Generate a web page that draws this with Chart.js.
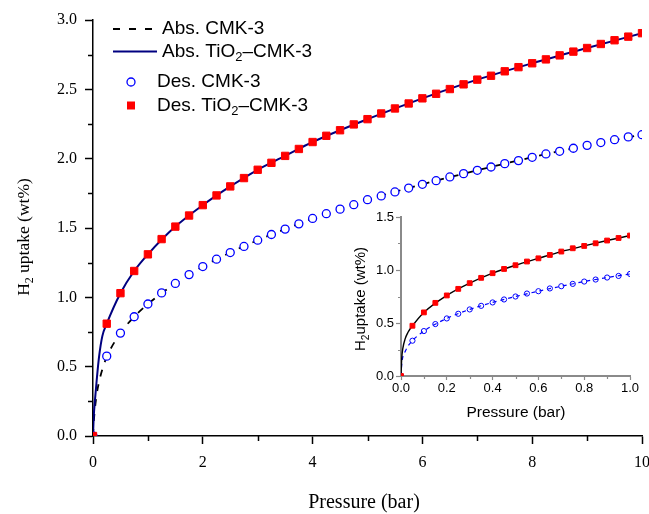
<!DOCTYPE html>
<html>
<head>
<meta charset="utf-8">
<script src="https://cdn.jsdelivr.net/npm/chart.js@4.4.0/dist/chart.umd.min.js"></script>
<style>
	body { margin: 0; background: #fff; }
	#wrap { position: relative; width: 649px; height: 514px; }
	#main-chart { position: absolute; left: 0; top: 0; }
	#inset-chart { position: absolute; left: 340px; top: 200px; }
</style>
</head>
<body>
<div id="wrap">
	<canvas id="main-chart" width="649" height="514"></canvas>
	<canvas id="inset-chart" width="305" height="230"></canvas>
</div>
<script>
// main plot, desorption points (bar, wt%)
var desPressure = [0, 0.25, 0.5, 0.75, 1, 1.25, 1.5, 1.75, 2, 2.25, 2.5, 2.75, 3, 3.25, 3.5, 3.75, 4, 4.25, 4.5, 4.75,
	5, 5.25, 5.5, 5.75, 6, 6.25, 6.5, 6.75, 7, 7.25, 7.5, 7.75, 8, 8.25, 8.5, 8.75, 9, 9.25, 9.5, 9.75, 10];
var desTiO2 = [0, 0.81, 1.03, 1.19, 1.31, 1.42, 1.51, 1.59, 1.665, 1.735, 1.80, 1.86, 1.92, 1.97, 2.02, 2.07, 2.12, 2.165, 2.205, 2.247,
	2.285, 2.326, 2.362, 2.398, 2.435, 2.468, 2.502, 2.536, 2.57, 2.598, 2.63, 2.66, 2.688, 2.716, 2.745, 2.772, 2.798, 2.827, 2.854, 2.88, 2.905];
var desCMK3 = [0, 0.576, 0.742, 0.86, 0.952, 1.032, 1.10, 1.164, 1.222, 1.275, 1.323, 1.367, 1.412, 1.453, 1.492, 1.53, 1.569, 1.603, 1.636, 1.668,
	1.704, 1.731, 1.76, 1.788, 1.815, 1.841, 1.868, 1.892, 1.916, 1.94, 1.964, 1.986, 2.01, 2.034, 2.053, 2.075, 2.096, 2.116, 2.137, 2.157, 2.173];

// main plot, absorption curves
var absPressure = [0, 0.012, 0.036, 0.067, 0.11, 0.17, 0.25, 0.5, 0.75, 1, 1.5, 2, 2.5, 3, 3.5, 4, 5, 6, 7, 8, 9, 10];
var absTiO2 = [0, 0.13, 0.26, 0.40, 0.57, 0.72, 0.81, 1.03, 1.19, 1.31, 1.51, 1.665, 1.80, 1.92, 2.02, 2.12, 2.285, 2.435, 2.57, 2.688, 2.798, 2.905];
var absCMK3 = [0, 0.09, 0.20, 0.30, 0.39, 0.48, 0.57, 0.742, 0.86, 0.952, 1.10, 1.222, 1.323, 1.412, 1.492, 1.569, 1.704, 1.815, 1.916, 2.01, 2.096, 2.173];

// inset, low pressure
var insetPressure = [0, 0.05, 0.1, 0.15, 0.2, 0.25, 0.3, 0.35, 0.4, 0.45, 0.5, 0.55, 0.6, 0.65, 0.7, 0.75, 0.8, 0.85, 0.9, 0.95, 1];
var insetDesTiO2 = [0, 0.474, 0.60, 0.69, 0.76, 0.822, 0.876, 0.926, 0.97, 1.01, 1.045, 1.08, 1.11, 1.142, 1.174, 1.205, 1.227, 1.252, 1.278, 1.302, 1.325];
var insetDesCMK3 = [0, 0.333, 0.424, 0.49, 0.543, 0.587, 0.628, 0.662, 0.694, 0.722, 0.75, 0.778, 0.80, 0.826, 0.847, 0.869, 0.891, 0.91, 0.929, 0.944, 0.963];
var insetAbsPressure = [0, 0.003, 0.008, 0.018, 0.03, 0.05, 0.1, 0.2, 0.3, 0.4, 0.5, 0.6, 0.7, 0.8, 0.9, 1];
var insetAbsTiO2 = [0, 0.16, 0.26, 0.35, 0.41, 0.474, 0.60, 0.76, 0.876, 0.97, 1.045, 1.11, 1.174, 1.227, 1.278, 1.325];
var insetAbsCMK3 = [0, 0.10, 0.18, 0.23, 0.28, 0.333, 0.424, 0.543, 0.628, 0.694, 0.75, 0.80, 0.847, 0.891, 0.929, 0.963];

var yMinorMain = [0.25, 0.75, 1.25, 1.75, 2.25, 2.75];
var xMinorMain = [1, 3, 5, 7, 9];
var yMinorInset = [0.25, 0.75, 1.25];
var xMinorInset = [0.1, 0.3, 0.5, 0.7, 0.9];

var SERIF = "'Liberation Serif', 'Times New Roman', serif";
var SANS = "'Liberation Sans', Arial, sans-serif";

function pts(xs, ys) {
	return xs.map(function(x, i) { return { x: x, y: ys[i] }; });
}

// text with subscript parts: [[text, isSub], ...]
function drawRich(ctx, parts, x, y, size, family, center) {
	var w = 0;
	parts.forEach(function(p) {
		ctx.font = (p[1] ? size * 0.68 : size) + 'px ' + family;
		w += ctx.measureText(p[0]).width;
	});
	var cx = center ? x - w / 2 : x;
	ctx.textAlign = 'left';
	ctx.textBaseline = 'middle';
	parts.forEach(function(p) {
		ctx.font = (p[1] ? size * 0.68 : size) + 'px ' + family;
		ctx.fillText(p[0], cx, p[1] ? y + size * 0.32 : y);
		cx += ctx.measureText(p[0]).width;
	});
}

function minorTicks(chart, xs, ys, len, color, width) {
	var ctx = chart.ctx, sx = chart.scales.x, sy = chart.scales.y;
	ctx.save();
	ctx.strokeStyle = color;
	ctx.lineWidth = width;
	ctx.beginPath();
	ys.forEach(function(v) {
		var py = Math.round(sy.getPixelForValue(v)) + 0.5;
		ctx.moveTo(sx.left, py);
		ctx.lineTo(sx.left - len, py);
	});
	xs.forEach(function(v) {
		var px = Math.round(sx.getPixelForValue(v)) + 0.5;
		ctx.moveTo(px, sy.bottom);
		ctx.lineTo(px, sy.bottom + len);
	});
	ctx.stroke();
	ctx.restore();
}

var mainExtras = {
	id: 'mainExtras',
	afterDraw: function(chart) {
		var ctx = chart.ctx;
		minorTicks(chart, xMinorMain, yMinorMain, 5, '#000', 1.5);
		ctx.save();
		ctx.fillStyle = '#000';
		drawRich(ctx, [['Pressure (bar)', 0]], 364, 503, 20, SERIF, true);
		ctx.translate(24, 237);
		ctx.rotate(-Math.PI / 2);
		drawRich(ctx, [['H', 0], ['2', 1], [' uptake (wt%)', 0]], 0, 0, 17.5, SERIF, true);
		ctx.restore();

		// legend
		ctx.save();
		ctx.lineWidth = 2;
		ctx.strokeStyle = '#000';
		ctx.setLineDash([7, 9]);
		ctx.beginPath(); ctx.moveTo(113, 29); ctx.lineTo(157, 29); ctx.stroke();
		ctx.setLineDash([]);
		ctx.strokeStyle = '#000080';
		ctx.beginPath(); ctx.moveTo(113, 51.5); ctx.lineTo(157, 51.5); ctx.stroke();
		ctx.lineWidth = 1.3;
		ctx.strokeStyle = '#0000ff';
		ctx.fillStyle = '#fff';
		ctx.beginPath(); ctx.arc(131, 82, 4, 0, Math.PI * 2); ctx.fill(); ctx.stroke();
		ctx.fillStyle = '#ff0000';
		ctx.fillRect(127, 101.5, 8, 8);
		ctx.fillStyle = '#000';
		drawRich(ctx, [['Abs. CMK-3', 0]], 162, 29, 19, SANS);
		drawRich(ctx, [['Abs. TiO', 0], ['2', 1], ['\u2013CMK-3', 0]], 162, 51.5, 19, SANS);
		drawRich(ctx, [['Des. CMK-3', 0]], 157, 82, 19, SANS);
		drawRich(ctx, [['Des. TiO', 0], ['2', 1], ['\u2013CMK-3', 0]], 157, 105.5, 19, SANS);
		ctx.restore();
	}
};

var insetExtras = {
	id: 'insetExtras',
	afterDraw: function(chart) {
		var ctx = chart.ctx;
		minorTicks(chart, xMinorInset, yMinorInset, 3, '#8a8a8a', 1.2);
		ctx.save();
		ctx.fillStyle = '#000';
		drawRich(ctx, [['Pressure (bar)', 0]], 176, 213, 15.5, SANS, true);
		ctx.translate(21, 99);
		ctx.rotate(-Math.PI / 2);
		drawRich(ctx, [['H', 0], ['2', 1], ['uptake (wt%)', 0]], 0, 0, 15, SANS, true);
		ctx.restore();
	}
};

new Chart(document.getElementById('main-chart'), {
	type: 'line',
	data: {
		datasets: [{
			label: 'Des. TiO2-CMK-3',
			data: pts(desPressure, desTiO2),
			showLine: false,
			pointStyle: 'rect',
			pointRadius: 5.2,
			pointHoverRadius: 5.2,
			backgroundColor: '#ff0000',
			borderColor: '#ff0000',
			borderWidth: 1
		}, {
			label: 'Des. CMK-3',
			data: pts(desPressure, desCMK3),
			showLine: false,
			pointStyle: 'circle',
			pointRadius: 4,
			pointHoverRadius: 4,
			backgroundColor: '#fff',
			borderColor: '#0000ff',
			borderWidth: 1.3
		}, {
			label: 'Abs. TiO2-CMK-3',
			data: pts(absPressure, absTiO2),
			borderColor: '#000080',
			borderWidth: 2,
			pointRadius: 0,
			cubicInterpolationMode: 'monotone',
			fill: false
		}, {
			label: 'Abs. CMK-3',
			data: pts(absPressure, absCMK3),
			borderColor: '#000',
			borderWidth: 1.8,
			borderDash: [7, 8],
			pointRadius: 0,
			cubicInterpolationMode: 'monotone',
			fill: false
		}]
	},
	options: {
		responsive: false,
		animation: false,
		layout: { padding: { top: 20, right: 7, left: 0, bottom: 0 } },
		plugins: { legend: { display: false }, tooltip: { enabled: false } },
		scales: {
			x: {
				type: 'linear',
				min: 0,
				max: 10,
				ticks: { stepSize: 2, color: '#000', padding: 9, maxRotation: 0, font: { family: SERIF, size: 16 } },
				grid: { drawOnChartArea: false, tickLength: 8, tickColor: '#000', tickWidth: 1.5 },
				border: { color: '#000', width: 1.5 },
				afterFit: function(s) { s.height = 78; s.paddingLeft = 0; s.paddingRight = 0; }
			},
			y: {
				min: 0,
				max: 3,
				ticks: {
					stepSize: 0.5, color: '#000', padding: 8, font: { family: SERIF, size: 16 },
					callback: function(v) { return v.toFixed(1); }
				},
				grid: { drawOnChartArea: false, tickLength: 8, tickColor: '#000', tickWidth: 1.5 },
				border: { color: '#000', width: 1.5 },
				afterFit: function(s) { s.width = 93; }
			}
		}
	},
	plugins: [mainExtras]
});

new Chart(document.getElementById('inset-chart'), {
	type: 'line',
	data: {
		datasets: [{
			label: 'Des. TiO2-CMK-3',
			data: pts(insetPressure, insetDesTiO2),
			showLine: false,
			pointStyle: 'rect',
			pointRadius: 3.4,
			pointHoverRadius: 3.4,
			backgroundColor: '#ff0000',
			borderColor: '#ff0000',
			borderWidth: 1
		}, {
			label: 'Des. CMK-3',
			data: pts(insetPressure, insetDesCMK3),
			showLine: false,
			pointStyle: 'circle',
			pointRadius: 2.6,
			pointHoverRadius: 2.6,
			backgroundColor: 'rgba(0,0,0,0)',
			borderColor: '#0000ff',
			borderWidth: 1
		}, {
			label: 'Abs. TiO2-CMK-3',
			data: pts(insetAbsPressure, insetAbsTiO2),
			borderColor: '#000',
			borderWidth: 1.4,
			pointRadius: 0,
			cubicInterpolationMode: 'monotone',
			fill: false
		}, {
			label: 'Abs. CMK-3',
			data: pts(insetAbsPressure, insetAbsCMK3),
			borderColor: '#0000ff',
			borderWidth: 1.2,
			borderDash: [4, 4],
			pointRadius: 0,
			cubicInterpolationMode: 'monotone',
			fill: false
		}]
	},
	options: {
		responsive: false,
		animation: false,
		layout: { padding: { top: 17, right: 15, left: 0, bottom: 0 } },
		plugins: { legend: { display: false }, tooltip: { enabled: false } },
		scales: {
			x: {
				type: 'linear',
				min: 0,
				max: 1,
				ticks: {
					stepSize: 0.2, color: '#000', padding: 1, maxRotation: 0, font: { family: SANS, size: 13 },
					callback: function(v) { return v.toFixed(1); }
				},
				grid: { drawOnChartArea: false, tickLength: 4, tickColor: '#8a8a8a', tickWidth: 1.2 },
				border: { color: '#8a8a8a', width: 2 },
				afterFit: function(s) { s.height = 54; }
			},
			y: {
				min: 0,
				max: 1.5,
				ticks: {
					stepSize: 0.5, color: '#000', padding: 2, font: { family: SANS, size: 13 },
					callback: function(v) { return v.toFixed(1); }
				},
				grid: { drawOnChartArea: false, tickLength: 5, tickColor: '#8a8a8a', tickWidth: 1.2 },
				border: { color: '#8a8a8a', width: 2 },
				afterFit: function(s) { s.width = 61; }
			}
		}
	},
	plugins: [insetExtras]
});
</script>
</body>
</html>
